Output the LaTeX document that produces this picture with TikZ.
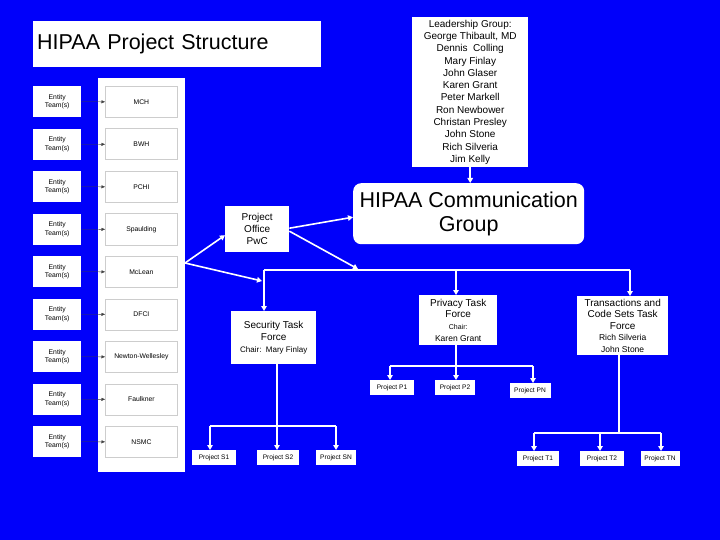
\documentclass[tikz,border=0pt]{standalone}
\usepackage{fontspec}
\setmainfont{Liberation Sans}
\usetikzlibrary{arrows.meta}
\definecolor{bg}{RGB}{0,0,250}
\definecolor{ibord}{RGB}{205,205,205}
\begin{document}
\begin{tikzpicture}[x=1pt,y=-1pt,
  wbox/.style={fill=white,inner sep=0pt,anchor=north west,align=center},
  ibox/.style={fill=white,draw=ibord,line width=0.8pt,inner sep=0pt,anchor=north west,align=center},
  pbox/.style={fill=white,inner sep=0pt,anchor=north,align=center,minimum height=15pt,font=\fontsize{6.6}{7.5}\selectfont},
  warrow/.style={draw=white,line width=1.6pt,-{Triangle[length=5pt,width=5.5pt]}},
  wline/.style={draw=white,line width=1.6pt},
  tarrow/.style={draw=black!75,line width=0.4pt,-{Triangle[length=3.5pt,width=3pt]}},
  f6/.style={font=\fontsize{6.8}{8.5}\selectfont},
  f10/.style={font=\fontsize{10}{12}\selectfont}]
\path[fill=bg] (0,0) rectangle (720,540);

% title
\node[wbox,minimum width=288pt,minimum height=46pt,text width=280pt,inner xsep=4pt,align=left,
      font=\fontsize{21.5}{24}\selectfont] (title) at (33,21) {HIPAA Project Structure};

% left panel
\node[wbox,minimum width=87pt,minimum height=394pt] (panel) at (98,78) {};

\foreach \i/\nm in {0/MCH,1/BWH,2/PCHI,3/Spaulding,4/McLean,5/DFCI,6/Newton-Wellesley,7/Faulkner,8/NSMC}{
  \pgfmathsetmacro\yy{86+42.5*\i}
  \node[wbox,minimum width=48pt,minimum height=31pt,f6] (e\i) at (33,\yy) {Entity\\Team(s)};
  \node[ibox,minimum width=72pt,minimum height=31pt,f6] (n\i) at (105,\yy) {\nm};
  \draw[tarrow] (e\i) -- (n\i);
}

% project office
\node[wbox,minimum width=64pt,minimum height=46pt,f10] (po) at (225,206) {Project\\Office\\PwC};

% leadership
\node[wbox,minimum width=116pt,minimum height=150pt,font=\fontsize{10}{12.3}\selectfont] (lead) at (412,17)
 {Leadership Group:\\George Thibault, MD\\Dennis\ \ Colling\\Mary Finlay\\John Glaser\\Karen Grant\\Peter Markell\\Ron Newbower\\Christan Presley\\John Stone\\Rich Silveria\\Jim Kelly};

% communication group
\node[wbox,rounded corners=8pt,minimum width=231pt,minimum height=61pt,font=\fontsize{21.5}{24.5}\selectfont] (comm) at (353,183) {HIPAA Communication\\Group};

% task forces
\node[wbox,minimum width=85pt,minimum height=53pt,f10] (sec) at (231,311)
 {Security Task\\Force\\{\fontsize{8}{9}\selectfont Chair:\ \ Mary Finlay}};
\node[wbox,minimum width=78pt,minimum height=50pt,font=\fontsize{10}{11.6}\selectfont] (priv) at (419,295)
 {Privacy Task\\Force\\{\fontsize{7}{8}\selectfont Chair:}\\{\fontsize{8.5}{9}\selectfont Karen Grant}};
\node[wbox,minimum width=91pt,minimum height=59pt,font=\fontsize{10}{11.6}\selectfont] (trans) at (577,296)
 {Transactions and\\Code Sets Task\\Force\\{\fontsize{8.5}{9}\selectfont Rich Silveria}\\{\fontsize{8.5}{9}\selectfont John Stone}};

% projects
\node[pbox,minimum width=44pt] (p1) at (392,380) {Project P1};
\node[pbox,minimum width=40pt] (p2) at (455,380) {Project P2};
\node[pbox,minimum width=41pt] (pn) at (530,383) {Project PN};
\node[pbox,minimum width=44pt] (s1) at (214,450) {Project S1};
\node[pbox,minimum width=42pt] (s2) at (278,450) {Project S2};
\node[pbox,minimum width=40pt] (sn) at (336,450) {Project SN};
\node[pbox,minimum width=42pt] (t1) at (538,451) {Project T1};
\node[pbox,minimum width=44pt] (t2) at (602,451) {Project T2};
\node[pbox,minimum width=39pt] (tn) at (660,451) {Project TN};

% connectors around project office
\coordinate (pa) at (185,263);
\coordinate (pb) at (262,281);
\coordinate (bj) at (358,269);
\draw[warrow] (pa) -- ([yshift=-6pt]po.west);
\draw[warrow] (pa) -- (pb);
\draw[warrow] ([yshift=1pt]po.east) -- ([yshift=-3.5pt]comm.west);
\draw[warrow] ([yshift=-2pt]po.east) -- (bj);

% leadership to comm
\draw[warrow] (lead.south) -- (lead.south |- comm.north);

% main branch
\coordinate (bl) at (264,270);
\coordinate (bm) at (456,270);
\coordinate (br) at (630,270);
\draw[wline] (bl) -- (br);
\draw[warrow] (bl) -- (bl |- sec.north);
\draw[warrow] (bm) -- (bm |- priv.north);
\draw[warrow] (br) -- (br |- trans.north);

% privacy projects
\coordinate (pl) at (390,366);
\coordinate (pm) at (456,366);
\coordinate (pr) at (533,366);
\draw[wline] (pm |- priv.south) -- (pm);
\draw[wline] (pl) -- (pr);
\draw[warrow] (pl) -- (pl |- p1.north);
\draw[warrow] (pm) -- (pm |- p2.north);
\draw[warrow] (pr) -- (pr |- pn.north);

% security projects
\coordinate (sl) at (210,426);
\coordinate (sm) at (277,426);
\coordinate (sr) at (336,426);
\draw[wline] (sm |- sec.south) -- (sm);
\draw[wline] (sl) -- (sr);
\draw[warrow] (sl) -- (sl |- s1.north);
\draw[warrow] (sm) -- (sm |- s2.north);
\draw[warrow] (sr) -- (sr |- sn.north);

% transaction projects
\coordinate (tl) at (534,433);
\coordinate (tv) at (619,433);
\coordinate (tm) at (600,433);
\coordinate (tr) at (661,433);
\draw[wline] (tv |- trans.south) -- (tv);
\draw[wline] (tl) -- (tr);
\draw[warrow] (tl) -- (tl |- t1.north);
\draw[warrow] (tm) -- (tm |- t2.north);
\draw[warrow] (tr) -- (tr |- tn.north);
\end{tikzpicture}
\end{document}
